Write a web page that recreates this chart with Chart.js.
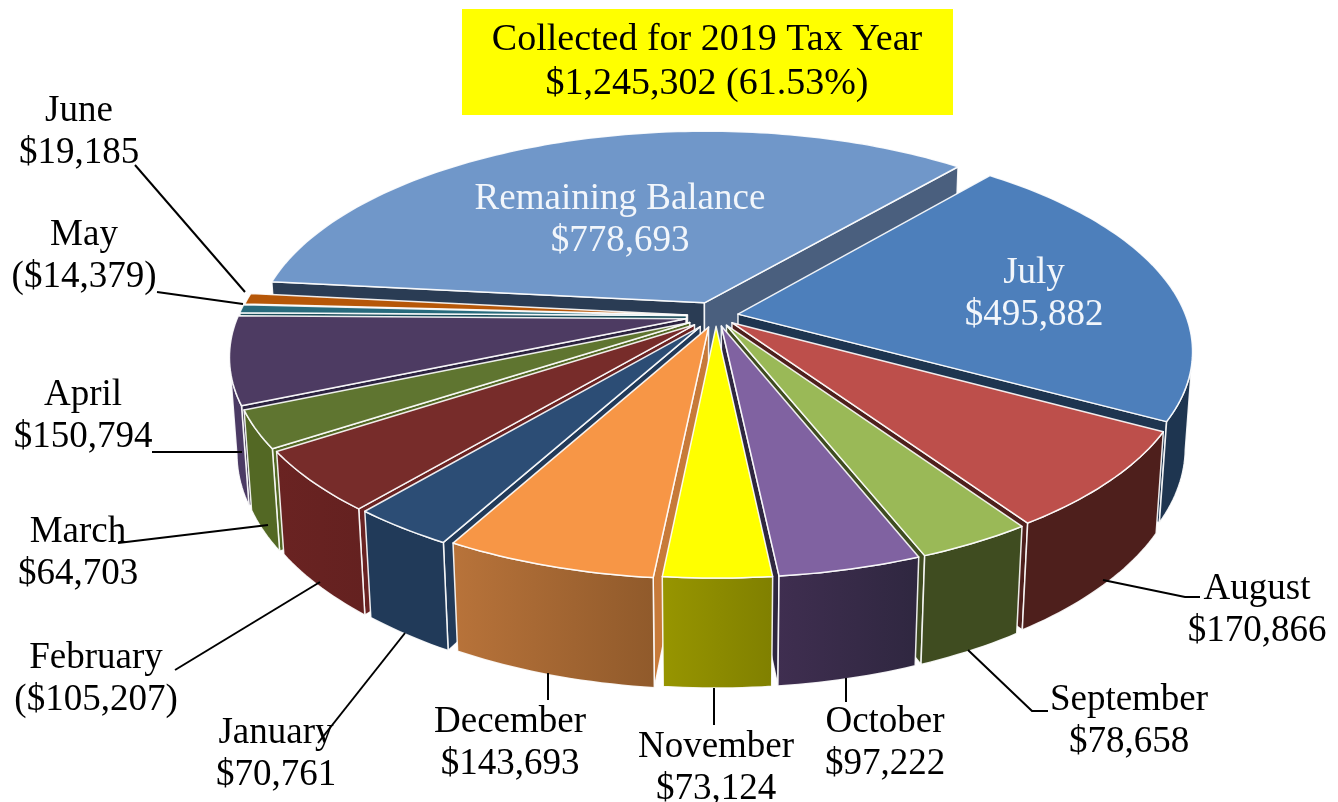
<!DOCTYPE html>
<html><head><meta charset="utf-8">
<style>html,body{margin:0;padding:0;background:#fff}canvas{display:block}</style>
<script src="https://cdn.jsdelivr.net/npm/chart.js@4"></script>
</head><body><canvas id="c" width="1338" height="802"></canvas>
<script>
const categories=["July","August","September","October","November","December","January","February","March","April","May","June","Remaining Balance"];
const signedValues=[495882,170866,78658,97222,73124,143693,70761,-105207,64703,150794,-14379,19185,778693];
const titleLines=["Collected for 2019 Tax Year","$1,245,302 (61.53%)"];
const topColors=["#4d7fbb","#bd4f4b","#9ab957","#8062a1","#ffff00","#f79646","#2c4d75","#772c2a","#5f7530","#4d3b62","#276a7c","#b65708","#7097c9"];
const wallFrom=["#1e3550","#4e1f1c","#3f4c20","#3f2e50","#979500","#b8733a","#213a59","#6a2322","#536824","#4b3a64","#1d4f5c","#87400a","#2a3c54"];
const wallTo=["#1e3550","#4e1f1c","#3f4c20","#2f2740","#808000","#905a2b","#213a59","#642120","#536824","#4b3a64","#1d4f5c","#87400a","#2a3c54"];
const radialStart=["#1e3550","#4e1f1c","#3f4c20","#3f2e50","#979500","#c77a39","#213a59","#6a2322","#536824","#2c2340","#1d4f5c","#87400a","#2a3c54"];
const radialEnd=["#1e3550","#4e1f1c","#3f4c20","#2f2740","#808000","#905a2b","#213a59","#642120","#536824","#2c2340","#1d4f5c","#87400a","#4a5f7e"];
const sliceOffsets=[50,48,50,50,50,56,62,64,66,68,66,64,70];
const labelPlaces=[[1034,283],[1257,599],[1129,710],[885,732],[716,757],[510,732],[276,743],[96,668],[78,542],[83,405],[84,245],[79,121],[620,209]];
const leaderPaths=[null,[[1103,580],[1185,597],[1200,597]],[[968,650],[1032,711],[1048,711]],[[846,678],[846,702]],[[714,688],[714,725]],[[548,673],[548,700]],[[405,633],[318,743]],[[320,582],[175,670]],[[268,525],[118,543]],[[242,452],[152,452]],[[243,304],[157,292]],[[245,292],[135,165]],null];
const titleBox=[462,9,491,106];
const view={cx:716,cy:316,R:448,k:205,p:0.17,H:96,q:0.015};

function project(u,v,z){const w=1-view.p*v+view.q*z;return [view.cx+view.R*u/w,view.cy+(view.k*v+view.H*z)/w];}
function fmt(n){const s="$"+Math.abs(n).toLocaleString("en-US");return n<0?"("+s+")":s;}
function poly(ctx,pts,fill){ctx.beginPath();pts.forEach((p,i)=>i?ctx.lineTo(p[0],p[1]):ctx.moveTo(p[0],p[1]));ctx.closePath();ctx.fillStyle=fill;ctx.fill();ctx.strokeStyle="rgba(255,255,255,0.9)";ctx.lineWidth=1.5;ctx.lineJoin="round";ctx.stroke();}
function area(pts){let s=0;pts.forEach((p,i)=>{const q=pts[(i+1)%pts.length];s+=p[0]*q[1]-q[0]*p[1];});return s;}

const pie3d={id:"pie3d",
 beforeDraw(chart){const c=chart.ctx;c.save();c.fillStyle="#ffff00";c.fillRect(...titleBox);c.restore();},
 beforeDatasetDraw(chart,args){
  const c=chart.ctx;const arcs=chart.getDatasetMeta(args.index).data;
  const order=arcs.map((a,i)=>i).sort((i,j)=>{
    const m=e=>Math.sin((e.startAngle+e.endAngle)/2);return m(arcs[i])-m(arcs[j]);});
  c.save();
  order.forEach(i=>{
   const a=arcs[i],s=a.startAngle,e=a.endAngle,mid=(s+e)/2,d=sliceOffsets[i]/1000;
   const ox=Math.cos(mid)*d,oy=Math.sin(mid)*d;
   const rim=[];const n=Math.max(6,Math.ceil((e-s)/0.02));
   for(let t=0;t<=n;t++){const g=s+(e-s)*t/n;rim.push([ox+Math.cos(g),oy+Math.sin(g)]);}
   const P=(q,z)=>project(q[0],q[1],z),apex=[ox,oy];
   const first=rim[0],last=rim[n];
   const qs=[P(apex,0),P(first,0),P(first,1),P(apex,1)];
   const qe=[P(apex,0),P(last,0),P(last,1),P(apex,1)];
   if(area(qs)<0)poly(c,qs,radialStart[i]);
   if(area(qe)>0)poly(c,qe,radialEnd[i]);
   const seen=rim.filter((q,t)=>{
     const A=P(rim[Math.max(0,t-1)],0),B=P(rim[Math.min(n,t+1)],0);return B[0]<A[0];});
   if(seen.length>1){
    const wall=seen.map(q=>P(q,0)).concat(seen.slice().reverse().map(q=>P(q,1)));
    const xs=wall.map(p=>p[0]);
    const g=c.createLinearGradient(Math.min(...xs),0,Math.max(...xs),0);
    g.addColorStop(0,wallFrom[i]);g.addColorStop(1,wallTo[i]);
    poly(c,wall,g);
   }
   poly(c,[P(apex,0)].concat(rim.map(q=>P(q,0))),a.options.backgroundColor);
  });
  c.restore();
  return false;
 },
 afterDatasetsDraw(chart){
  const c=chart.ctx;c.save();
  c.strokeStyle="#000";c.lineWidth=2;
  leaderPaths.forEach(p=>{if(!p)return;c.beginPath();p.forEach((q,i)=>i?c.lineTo(q[0],q[1]):c.moveTo(q[0],q[1]));c.stroke();});
  c.font="37px 'Liberation Serif'";c.textAlign="center";c.textBaseline="alphabetic";
  categories.forEach((name,i)=>{
   const [x,y]=labelPlaces[i];
   c.fillStyle=(i===0||i===12)?"#f2f6fb":"#000";
   c.fillText(name,x,y);c.fillText(fmt(signedValues[i]),x,y+42);
  });
  c.restore();
 }};

new Chart(document.getElementById("c"),{
 type:"pie",
 data:{labels:categories,datasets:[{data:signedValues.map(Math.abs),backgroundColor:topColors,offset:sliceOffsets,borderColor:"#fff",borderWidth:1}]},
 options:{responsive:false,animation:false,rotation:40,layout:{padding:{left:76}},
  plugins:{legend:{display:false},tooltip:{enabled:false},
   title:{display:true,text:titleLines,color:"#000",font:{family:"'Liberation Serif'",size:38,weight:"normal",lineHeight:1.16},padding:{top:18,bottom:0}}}},
 plugins:[pie3d]});
</script></body></html>
